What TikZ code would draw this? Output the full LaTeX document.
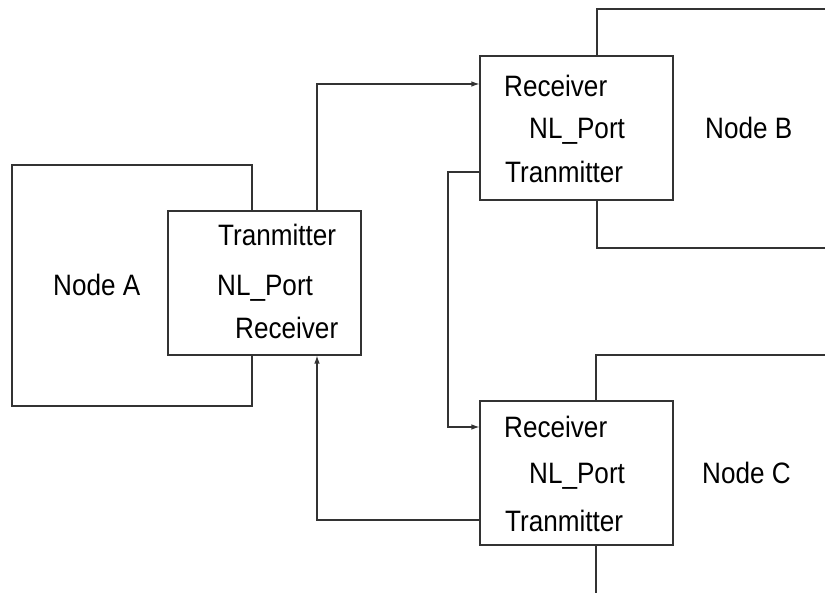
\documentclass[tikz,border=0pt]{standalone}
\usepackage{fontspec}
\setmainfont{Liberation Sans}[FakeStretch=0.885]
\usetikzlibrary{arrows.meta}
\begin{document}
\begin{tikzpicture}[x=1pt,y=-1pt,
  line/.style={draw=black!80,line width=1.1pt},
  port/.style={line,fill=white,rectangle,minimum width=193pt,minimum height=144pt,inner sep=0pt},
  lbl/.style={anchor=base west,inner sep=0pt,font=\fontsize{29.5}{35}\selectfont},
  conn/.style={line,-{Latex[length=8pt,width=5.5pt]}},
  plain/.style={line}]
\useasboundingbox (0,0) rectangle (825,593);
% outer node boxes
\draw[plain] (12,165) rectangle (252,406);
\draw[plain] (826,9) -- (597,9) -- (597,248) -- (826,248);
\draw[plain] (826,355) -- (596,355) -- (596,594);
% ports
\node[port] (pA) at (264.5,283) {};
\node[port] (pB) at (576.5,128) {};
\node[port] (pC) at (576.5,473) {};
% labels
\node[lbl] (nA) at (53,296) {Node A};
\node[lbl] (aT) at (218,246) {Tranmitter};
\node[lbl] (aN) at (217,296) {NL\_Port};
\node[lbl] (aR) at (235,339) {Receiver};
\node[lbl] (nB) at (705,139) {Node B};
\node[lbl] (bR) at (504,97) {Receiver};
\node[lbl] (bN) at (529,139) {NL\_Port};
\node[lbl] (bT) at (505,183) {Tranmitter};
\node[lbl] (nC) at (702,484) {Node C};
\node[lbl] (cR) at (504,438) {Receiver};
\node[lbl] (cN) at (529,484) {NL\_Port};
\node[lbl] (cT) at (505,531) {Tranmitter};
% connector helper coordinates
\coordinate (xA) at (317,0);
\coordinate (xM) at (448,0);
\coordinate (yAB) at (0,84);
\coordinate (yBt) at (0,172);
\coordinate (yCr) at (0,427);
\coordinate (yCt) at (0,520);
% connectors
\draw[conn] (pA.north -| xA) |- (pB.west |- yAB);
\draw[conn] (pB.west |- yBt) -- (xM |- yBt) |- (pC.west |- yCr);
\draw[conn] (pC.west |- yCt) -| (pA.south -| xA);
\end{tikzpicture}
\end{document}
